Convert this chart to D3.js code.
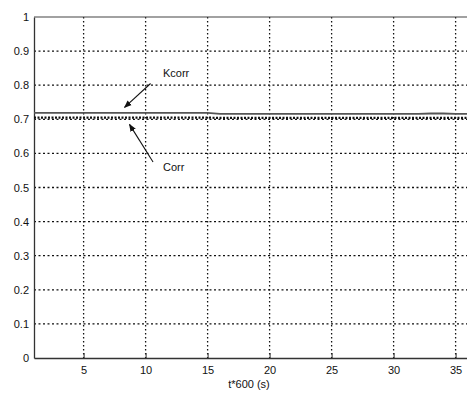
<!DOCTYPE html>
<html><head><meta charset="utf-8">
<script src="https://cdn.jsdelivr.net/npm/d3@7"></script>
<style>body{margin:0;background:#fff}svg{display:block}text{font-family:"Liberation Sans",Arial,sans-serif;fill:#111}</style>
</head><body><svg id="c" width="467" height="393"></svg>
<script>
const t = d3.range(1, 37);
const kcorr = [0.719,0.719,0.719,0.719,0.719,0.719,0.719,0.719,0.719,0.719,0.719,0.719,0.719,0.719,0.719,0.716,0.716,0.716,0.716,0.716,0.716,0.716,0.716,0.716,0.716,0.716,0.716,0.716,0.716,0.716,0.716,0.716,0.717,0.717,0.716,0.716];
const corr = [0.705,0.705,0.705,0.705,0.705,0.705,0.705,0.705,0.705,0.705,0.705,0.705,0.705,0.705,0.705,0.704,0.704,0.704,0.704,0.704,0.704,0.704,0.704,0.704,0.704,0.704,0.704,0.704,0.704,0.704,0.704,0.704,0.704,0.704,0.704,0.704];
const xTicks = [5,10,15,20,25,30,35];
const yTicks = [0,0.1,0.2,0.3,0.4,0.5,0.6,0.7,0.8,0.9,1];
const xLabel = "t*600 (s)";

const svg = d3.select("#c");
const L=34, R=468, T=17, B=358;
const x = d3.scaleLinear().domain([1,36]).range([L,R]);
const y = d3.scaleLinear().domain([0,1]).range([B,T]);

// grid
svg.append("g").selectAll("line").data(xTicks).join("line")
  .attr("x1",d=>x(d)).attr("x2",d=>x(d)).attr("y1",T).attr("y2",B)
  .attr("stroke","#111").attr("stroke-width",1.3).attr("stroke-dasharray","1.5,2.5");
svg.append("g").selectAll("line").data(yTicks.filter(d=>d>0&&d<1)).join("line")
  .attr("x1",L).attr("x2",R).attr("y1",d=>y(d)).attr("y2",d=>y(d))
  .attr("stroke","#111").attr("stroke-width",1.3).attr("stroke-dasharray","2,2.5");

// axes
const xa = svg.append("g").attr("transform",`translate(0,${B})`)
  .call(d3.axisBottom(x).tickValues(xTicks).tickSize(0).tickPadding(8).tickFormat(d3.format("d")));
const ya = svg.append("g").attr("transform",`translate(${L},0)`)
  .call(d3.axisLeft(y).tickValues(yTicks).tickSize(0).tickPadding(5).tickFormat(d=>d===0||d===1?d3.format("d")(d):d3.format(".1f")(d)));
[xa,ya].forEach(a=>{a.select(".domain").attr("stroke","#333").attr("stroke-width",1.3);a.selectAll("text").attr("font-size",11).attr("fill","#111");});
xa.selectAll(".tick").append("line").attr("y1",0).attr("y2",-5).attr("stroke","#333");
svg.append("line").attr("x1",L).attr("x2",R).attr("y1",T).attr("y2",T).attr("stroke","#444").attr("stroke-width",1.2);

// data lines
const lk = d3.line().x((d,i)=>x(t[i])).y(d=>y(d));
svg.append("path").datum(kcorr).attr("d",lk).attr("fill","none").attr("stroke","#555").attr("stroke-width",1.8);
svg.append("path").datum(corr).attr("d",lk).attr("fill","none").attr("stroke","#111").attr("stroke-width",2.2).attr("stroke-dasharray","2,1.5");

// annotations
svg.append("defs").append("marker").attr("id","ah").attr("viewBox","0 0 10 10").attr("refX",9).attr("refY",5)
  .attr("markerWidth",7).attr("markerHeight",7).attr("orient","auto")
  .append("path").attr("d","M0,1 L10,5 L0,9 Z").attr("fill","#111");
svg.append("line").attr("x1",x(10.4)).attr("y1",y(0.805)).attr("x2",x(8.3)).attr("y2",y(0.735))
  .attr("stroke","#111").attr("stroke-width",1.1).attr("marker-end","url(#ah)");
svg.append("line").attr("x1",x(10.6)).attr("y1",y(0.575)).attr("x2",x(8.7)).attr("y2",y(0.685))
  .attr("stroke","#111").attr("stroke-width",1.1).attr("marker-end","url(#ah)");
svg.append("text").attr("x",x(11.4)).attr("y",y(0.825)).attr("font-size",11).text("Kcorr");
svg.append("text").attr("x",x(11.4)).attr("y",y(0.548)).attr("font-size",11).text("Corr");

svg.append("text").attr("x",249).attr("y",388).attr("text-anchor","middle").attr("font-size",11).text(xLabel);
</script></body></html>
